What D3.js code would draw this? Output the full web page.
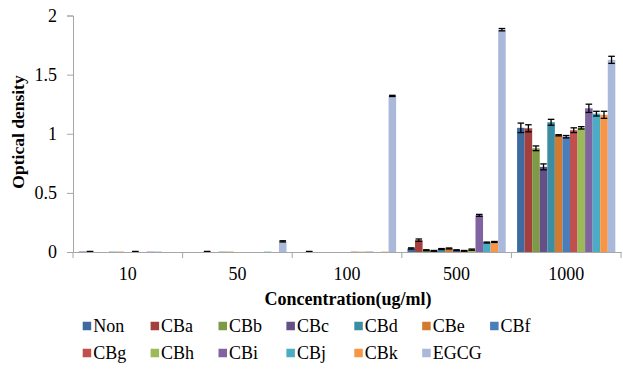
<!DOCTYPE html>
<html>
<head>
<meta charset="utf-8">
<script src="https://d3js.org/d3.v7.min.js"></script>
</head>
<body style="margin:0; background:#fff">
<div id="grafica"></div>
<script>
// datos
var concentrations = ["10", "50", "100", "500", "1000"];
var seriesNames = ["Non", "CBa", "CBb", "CBc", "CBd", "CBe", "CBf", "CBg", "CBh", "CBi", "CBj", "CBk", "EGCG"];
var seriesColors = ["#3E6AA0", "#A33F3D", "#7E9A47", "#654F87", "#3B8DA3", "#D27A30", "#4A7EBB",
                    "#C0504D", "#9BBB59", "#8064A2", "#4BACC6", "#F79646", "#AAB9DA"];

// one array per concentration, same order as seriesNames
var od10   = [0.004, 0.001, 0, 0, 0.003, 0.003, 0, 0.001, 0, 0.003, 0.003, 0, 0];
var od50   = [0, 0, 0.001, 0, 0.003, 0.003, 0, 0, 0, 0, 0.003, 0, 0.09];
var od100  = [0, 0.001, 0, 0, 0, 0, 0, 0.003, 0.003, 0.003, 0, 0.003, 1.32];
var od500  = [0.03, 0.10, 0.015, 0.01, 0.025, 0.03, 0.015, 0.01, 0.02, 0.31, 0.08, 0.085, 1.88];
var od1000 = [1.05, 1.046, 0.877, 0.72, 1.097, 0.987, 0.975, 1.03, 1.05, 1.215, 1.17, 1.16, 1.625];

var err10   = [0, 0.004, 0, 0, 0, 0, 0, 0.004, 0, 0, 0, 0, 0];
var err50   = [0, 0, 0.004, 0, 0, 0, 0, 0, 0, 0, 0, 0, 0.005];
var err100  = [0, 0.004, 0, 0, 0, 0, 0, 0, 0, 0, 0, 0, 0.005];
var err500  = [0.005, 0.01, 0.004, 0.003, 0.004, 0.004, 0.004, 0.003, 0.005, 0.008, 0.004, 0.004, 0.01];
var err1000 = [0.04, 0.03, 0.02, 0.025, 0.025, 0.005, 0.01, 0.02, 0.01, 0.035, 0.02, 0.03, 0.03];

var yTicks = [0, 0.5, 1, 1.5, 2];

var values = [od10, od50, od100, od500, od1000];
var errors = [err10, err50, err100, err500, err1000];

var w = 623,
    h = 376,
    fuente = "Liberation Serif";

var svg = d3.select("#grafica")
    .append("svg")
    .attr("width", w)
    .attr("height", h);

// escalas
var x = d3.scaleBand()
    .domain(concentrations)
    .range([73, 621]);

var xSub = d3.scaleBand()
    .domain(seriesNames)
    .range([0, x.bandwidth()])
    .paddingOuter(0.75);

var y = d3.scaleLinear()
    .domain([0, 2])
    .range([252, 15.5]);

var data = [];
concentrations.forEach(function(c, i) {
    seriesNames.forEach(function(s, j) {
        data.push({conc: c, serie: s, color: seriesColors[j], v: values[i][j], e: errors[i][j]});
    });
});

// barras
svg.append("g")
    .selectAll("rect")
    .data(data)
    .enter()
    .append("rect")
    .attr("x", function(d) { return x(d.conc) + xSub(d.serie); })
    .attr("y", function(d) { return y(d.v); })
    .attr("width", xSub.bandwidth())
    .attr("height", function(d) { return y(0) - y(d.v); })
    .style("fill", function(d) { return d.color; });

// barras de error
var eb = svg.append("g")
    .selectAll("g")
    .data(data.filter(function(d) { return d.e > 0; }))
    .enter()
    .append("g")
    .attr("stroke", "#000")
    .attr("stroke-width", 1.3);

eb.append("line")
    .attr("x1", function(d) { return x(d.conc) + xSub(d.serie) + xSub.bandwidth() / 2; })
    .attr("x2", function(d) { return x(d.conc) + xSub(d.serie) + xSub.bandwidth() / 2; })
    .attr("y1", function(d) { return y(d.v - d.e); })
    .attr("y2", function(d) { return y(d.v + d.e); });

eb.selectAll("line.cap")
    .data(function(d) { return [d.v - d.e, d.v + d.e].map(function(t) { return {d: d, t: t}; }); })
    .enter()
    .append("line")
    .attr("class", "cap")
    .attr("x1", function(p) { return x(p.d.conc) + xSub(p.d.serie) + 0.5; })
    .attr("x2", function(p) { return x(p.d.conc) + xSub(p.d.serie) + xSub.bandwidth() - 0.5; })
    .attr("y1", function(p) { return y(p.t); })
    .attr("y2", function(p) { return y(p.t); });

// eje Y
var yAxis = svg.append("g")
    .attr("transform", "translate(73,0)")
    .call(d3.axisLeft(y).tickValues(yTicks).tickFormat(d3.format("")).tickSize(6).tickPadding(10));
yAxis.attr("font-family", fuente).attr("font-size", 18);
yAxis.select(".domain").attr("stroke", "#A6A6A6");
yAxis.selectAll(".tick line").attr("stroke", "#A6A6A6");
yAxis.selectAll("text").attr("fill", "#000").attr("font-family", fuente);

// eje X
var xAxis = svg.append("g")
    .attr("transform", "translate(0,252)")
    .call(d3.axisBottom(x).tickSize(0).tickPadding(15));
xAxis.attr("font-family", fuente).attr("font-size", 18);
xAxis.select(".domain").attr("stroke", "#A6A6A6");
xAxis.selectAll("text").attr("fill", "#000").attr("font-family", fuente);

// marcas entre categorias
svg.append("g")
    .selectAll("line")
    .data(concentrations.concat(["end"]))
    .enter()
    .append("line")
    .attr("x1", function(d, i) { return i < concentrations.length ? x(d) : x.range()[1]; })
    .attr("x2", function(d, i) { return i < concentrations.length ? x(d) : x.range()[1]; })
    .attr("y1", 252)
    .attr("y2", 258)
    .attr("stroke", "#A6A6A6");

// titulos
svg.append("text")
    .attr("transform", "translate(24,132) rotate(-90)")
    .attr("text-anchor", "middle")
    .attr("font-family", fuente)
    .attr("font-size", 17.5)
    .attr("font-weight", "bold")
    .text("Optical density");

svg.append("text")
    .attr("x", 348)
    .attr("y", 305)
    .attr("text-anchor", "middle")
    .attr("font-family", fuente)
    .attr("font-size", 18)
    .attr("font-weight", "bold")
    .text("Concentration(ug/ml)");

// Leyenda
var leg = svg.append("g")
    .selectAll("g")
    .data(seriesNames)
    .enter()
    .append("g")
    .attr("transform", function(d, i) {
        return "translate(" + (82.7 + (i % 7) * 67.9) + "," + (326 + Math.floor(i / 7) * 27) + ")";
    });

leg.append("rect")
    .attr("x", 0)
    .attr("y", -4.25)
    .attr("width", 8.5)
    .attr("height", 8.5)
    .style("fill", function(d, i) { return seriesColors[i]; });

leg.append("text")
    .attr("x", 10.5)
    .attr("y", 6)
    .attr("font-family", fuente)
    .attr("font-size", 18)
    .text(function(d) { return d; });
</script>
</body>
</html>
